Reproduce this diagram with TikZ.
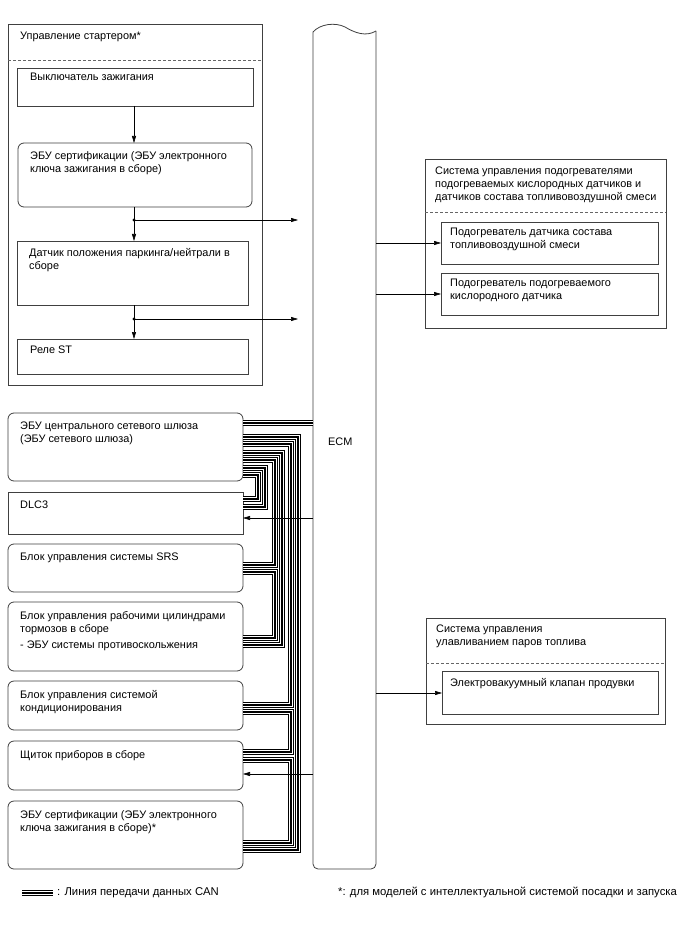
\documentclass[tikz,border=0pt]{standalone}
\usepackage{fontspec}
\setmainfont{Liberation Sans}
\usetikzlibrary{arrows.meta}
\begin{document}
\begin{tikzpicture}[x=1pt,y=-1pt,
  ol/.style={draw=black!75, line width=0.8pt},
  sq/.style={ol, anchor=north west, inner sep=0pt, outer sep=0pt, minimum width=235pt},
  rd/.style={sq, rounded corners=6pt},
  txt/.style={anchor=north west, inner sep=0pt, align=left, font=\fontsize{10.9}{13}\selectfont},
  dsh/.style={draw=black!60, line width=0.8pt, dash pattern=on 3pt off 2pt},
  arr/.style={draw=black, line width=0.6pt, -{Triangle[length=7pt,width=4pt]}},
  can/.style={line width=6.6pt, draw=black, line join=miter, postaction={draw=white, line width=3.4pt}, postaction={draw=black, line width=1.3pt}},
]
\fill[white] (0,0) rectangle (688,949);
\useasboundingbox (0,0) rectangle (688,949);

% ---- starter control group
\node[sq, minimum width=254pt, minimum height=361pt] (start) at (8,24) {};
\draw[dsh] (start.west |- 0,60) -- (start.east |- 0,60);
\node[txt] at ([shift={(12pt,-8pt)}]start.north west) {Управление стартером*};

\node[sq, minimum width=236pt, minimum height=38pt] (ign) at (17,68) {};
\node[txt] at ([shift={(13pt,-5pt)}]ign.north west) {Выключатель зажигания};
\node[rd, minimum width=234pt, minimum height=64pt] (cert) at (18,143) {};
\node[txt] at ([shift={(12pt,-8pt)}]cert.north west) {ЭБУ сертификации (ЭБУ электронного\\ключа зажигания в сборе)};
\node[sq, minimum width=231pt, minimum height=64pt] (park) at (17,241) {};
\node[txt] at ([shift={(12pt,-7pt)}]park.north west) {Датчик положения паркинга/нейтрали в\\сборе};
\node[sq, minimum width=231pt, minimum height=35pt] (relay) at (17,339) {};
\node[txt] at ([shift={(13pt,-7pt)}]relay.north west) {Реле ST};

% ---- left column
\node[rd, minimum height=68pt] (gw) at (8,413) {};
\node[txt] at ([shift={(12pt,-9pt)}]gw.north west) {ЭБУ центрального сетевого шлюза\\(ЭБУ сетевого шлюза)};
\node[sq, minimum height=42pt] (dlc) at (8,492) {};
\node[txt] at ([shift={(12pt,-9pt)}]dlc.north west) {DLC3};
\node[rd, minimum height=48pt] (srs) at (8,544) {};
\node[txt] at ([shift={(12pt,-9pt)}]srs.north west) {Блок управления системы SRS};
\node[rd, minimum height=69pt] (brk) at (8,602) {};
\node[txt] at ([shift={(12pt,-9pt)}]brk.north west) {Блок управления рабочими цилиндрами\\тормозов в сборе\\[3pt]- ЭБУ системы противоскольжения};
\node[rd, minimum height=49pt] (ac) at (8,681) {};
\node[txt] at ([shift={(12pt,-9pt)}]ac.north west) {Блок управления системой\\кондиционирования};
\node[rd, minimum height=49pt] (clu) at (8,741) {};
\node[txt] at ([shift={(12pt,-9pt)}]clu.north west) {Щиток приборов в сборе};
\node[rd, minimum height=68pt] (cer2) at (8,801) {};
\node[txt] at ([shift={(12pt,-9pt)}]cer2.north west) {ЭБУ сертификации (ЭБУ электронного\\ключа зажигания в сборе)*};

% ---- right column
\node[sq, minimum width=241pt, minimum height=169pt] (heat) at (425,159) {};
\draw[dsh] (heat.west |- 0,212) -- (heat.east |- 0,212);
\node[txt] at ([shift={(10pt,-8pt)}]heat.north west) {Система управления подогревателями\\подогреваемых кислородных датчиков и\\датчиков состава топливовоздушной смеси};
\node[sq, minimum width=217pt, minimum height=42pt] (hs1) at (441,222) {};
\node[txt] at ([shift={(9pt,-6pt)}]hs1.north west) {Подогреватель датчика состава\\топливовоздушной смеси};
\node[sq, minimum width=217pt, minimum height=42pt] (hs2) at (441,273) {};
\node[txt] at ([shift={(9pt,-6pt)}]hs2.north west) {Подогреватель подогреваемого\\кислородного датчика};

\node[sq, minimum width=239pt, minimum height=106pt] (evap) at (426,618) {};
\draw[dsh] (evap.west |- 0,663) -- (evap.east |- 0,663);
\node[txt] at ([shift={(10pt,-7pt)}]evap.north west) {Система управления\\улавливанием паров топлива};
\node[sq, minimum width=216pt, minimum height=43pt] (purge) at (442,671) {};
\node[txt] at ([shift={(8pt,-7pt)}]purge.north west) {Электровакуумный клапан продувки};

% ---- ECM
\node[anchor=north west, inner sep=0pt, outer sep=0pt, minimum width=63pt, minimum height=839pt] (ecm) at (313,30) {};
\draw[ol, rounded corners=5pt] (376,31) -- (376,869) -- (313,869) -- (313,32);
\draw[ol] (313,32) .. controls (320,24) and (335,22) .. (345,27) .. controls (355,33) and (366,37) .. (376,31);
\node[txt] (ecmlbl) at (328,438) {ECM};

% ---- CAN lines
\draw[can] (gw.east |- 0,423) -- (ecm.west |- 0,423);
\draw[can] (gw.east |- 0,437) -| (298,850) -- (cer2.east |- 0,850);
\draw[can] (gw.east |- 0,444) -| (291,705) -- (ac.east |- 0,705);
\draw[can] (gw.east |- 0,453) -| (282,645) -- (brk.east |- 0,645);
\draw[can] (gw.east |- 0,460) -| (275,565) -- (srs.east |- 0,565);
\draw[can] (gw.east |- 0,468) -| (265,507) -- (dlc.east |- 0,507);
\draw[can] (gw.east |- 0,475) -| (258,499) -- (dlc.east |- 0,499);
\draw[can] (srs.east |- 0,572) -| (275,638) -- (brk.east |- 0,638);
\draw[can] (ac.east |- 0,712) -| (291,752) -- (clu.east |- 0,752);
\draw[can] (clu.east |- 0,760) -| (291,843) -- (cer2.east |- 0,843);

% ---- signal arrows
\draw[arr] (ign.south -| 134,0) -- (cert.north -| 134,0);
\draw[arr] (cert.south -| 134,0) -- (park.north -| 134,0);
\draw[arr] (park.south -| 134,0) -- (relay.north -| 134,0);
\coordinate (d1) at (134,220); \coordinate (e1) at (298,220);
\coordinate (d2) at (134,319); \coordinate (e2) at (298,319);
\fill (d1) circle (1.6pt); \fill (d2) circle (1.6pt);
\draw[arr] (d1) -- (e1);
\draw[arr] (d2) -- (e2);
\draw[arr] (ecm.west |- 0,518) -- (dlc.east |- 0,518);
\draw[arr] (ecm.west |- 0,774) -- (clu.east |- 0,774);
\draw[arr] (ecm.east |- 0,243) -- (hs1.west |- 0,243);
\draw[arr] (ecm.east |- 0,294) -- (hs2.west |- 0,294);
\draw[arr] (ecm.east |- 0,693) -- (purge.west |- 0,693);

% ---- legend
\coordinate (lg1) at (22,893); \coordinate (lg2) at (53,893);
\draw[can] (lg1) -- (lg2);
\node[txt, font=\fontsize{11.3}{13}\selectfont] (lgt) at (57,887) {: Линия передачи данных CAN};
\node[txt, font=\fontsize{11.3}{13}\selectfont] (note) at (338,887) {*: для моделей с интеллектуальной системой посадки и запуска};
\end{tikzpicture}
\end{document}
